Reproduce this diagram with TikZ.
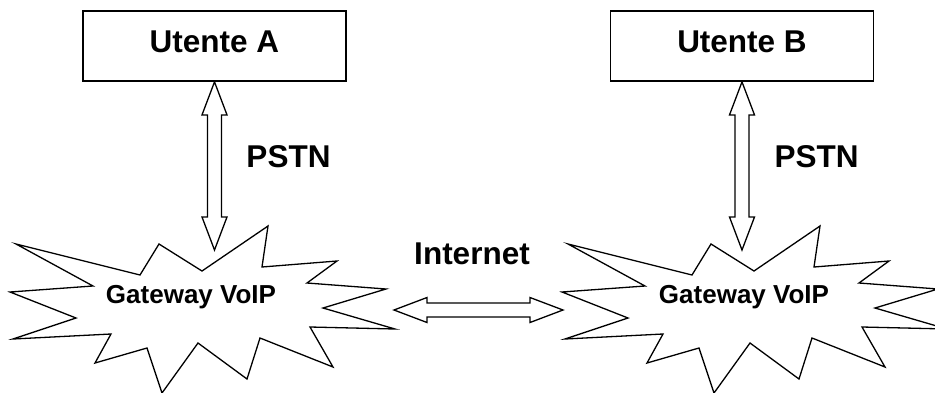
\documentclass[tikz,border=0pt]{standalone}
\usepackage{fontspec}
\setmainfont{Liberation Sans}
\usetikzlibrary{calc}
\tikzset{
  userbox/.style={draw, line width=1.8pt, minimum width=263pt, minimum height=70pt,
    inner sep=0pt, text height=23pt, text depth=11pt,
    font=\bfseries\fontsize{31.5}{36}\selectfont},
  lbl/.style={font=\bfseries\fontsize{31.5}{36}\selectfont, inner sep=0pt},
  gwlbl/.style={font=\bfseries\fontsize{26}{30}\selectfont, inner sep=0pt, anchor=base},
  burst/.style={draw, line width=1.3pt, line join=miter, fill=white},
  hollow/.style={draw, line width=1.3pt, fill=white, line join=miter},
}
\newcommand\hollowdbl[2]{%
  \coordinate (hA) at ($(#1)!33pt!(#2)$);
  \coordinate (hB) at ($(#2)!33pt!(#1)$);
  \draw[hollow] (#1)
    -- ($(hA)!12.5pt!90:(#2)$) -- ($(hA)!7pt!90:(#2)$)
    -- ($(hB)!7pt!-90:(#1)$) -- ($(hB)!12.5pt!-90:(#1)$)
    -- (#2)
    -- ($(hB)!12.5pt!90:(#1)$) -- ($(hB)!7pt!90:(#1)$)
    -- ($(hA)!7pt!-90:(#2)$) -- ($(hA)!12.5pt!-90:(#2)$)
    -- cycle;}
\newcommand\burstpath{%
  (16,244) -- (140,275) -- (159,244) -- (202,271) -- (268,226) -- (262,267)
  -- (337,261) -- (307,283) -- (386,289) -- (323,308) -- (395,329) -- (310,327)
  -- (333,367) -- (260,338) -- (247,379) -- (198,343) -- (162,393) -- (147,348)
  -- (95,363) -- (111,334) -- (13,339) -- (76,318) -- (10,292) -- (93,286) -- cycle}
\begin{document}
\begin{tikzpicture}[x=1pt,y=-1pt]
  \useasboundingbox (0,0) rectangle (935,392);
  \clip (0,0) rectangle (935,392);
  % gateways (starbursts)
  \draw[burst] \burstpath;
  \begin{scope}[xshift=552pt]
    \draw[burst] \burstpath;
  \end{scope}
  \node[gwlbl] (gwA) at (191,303) {Gateway VoIP};
  \node[gwlbl] (gwB) at (744,303) {Gateway VoIP};
  % users
  \node[userbox] (ua) at (214.5,46) {Utente A};
  \node[userbox] (ub) at (742,46) {Utente B};
  % labels
  \node[lbl] (pstnA) at (288.5,156.5) {PSTN};
  \node[lbl] (pstnB) at (816.5,156.5) {PSTN};
  \node[lbl] (inet) at (472,254) {Internet};
  % connector ends
  \coordinate (gA) at (214.5,250);
  \coordinate (gB) at (742,250);
  \coordinate (iL) at (394,310);
  \coordinate (iR) at (563,310);
  \coordinate (uas) at (ua.south);
  \coordinate (ubs) at (ub.south);
  \hollowdbl{uas}{gA}
  \hollowdbl{ubs}{gB}
  \hollowdbl{iL}{iR}
\end{tikzpicture}
\end{document}
